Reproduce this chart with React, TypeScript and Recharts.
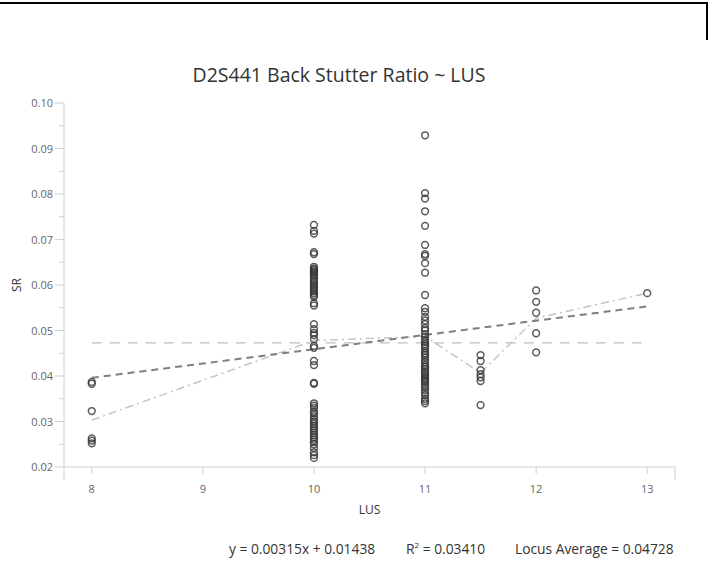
import React from "react";
import { ScatterChart, Scatter, XAxis, YAxis } from "recharts";

// SR values per LUS
const lus8 = [0.0387, 0.0383, 0.0323, 0.0263, 0.0258, 0.0252];
const lus10 = [
  0.0732, 0.0719, 0.0713, 0.0672, 0.0668,
  0.064, 0.0636, 0.0633, 0.063, 0.0628, 0.0624, 0.062, 0.0615, 0.061, 0.0606,
  0.0602, 0.0598, 0.0594, 0.059, 0.0586, 0.0582, 0.0578, 0.0574, 0.056, 0.0555,
  0.0514, 0.0503, 0.0495, 0.049, 0.0481, 0.0466, 0.0462, 0.0433, 0.0424, 0.0385, 0.0383,
  0.034, 0.0335, 0.033, 0.0322, 0.0318, 0.0312, 0.0305, 0.03, 0.0295, 0.029, 0.0285,
  0.028, 0.0275, 0.027, 0.0265, 0.026, 0.0255, 0.025, 0.0242, 0.0232, 0.0226, 0.022,
];
const lus11 = [
  0.0929, 0.0802, 0.079, 0.0762, 0.073, 0.0688, 0.0668, 0.0664, 0.0648, 0.0627,
  0.0578, 0.0549, 0.0541, 0.053, 0.0522, 0.0514, 0.0505, 0.05, 0.0492, 0.0486,
  0.048, 0.0475, 0.047, 0.0466, 0.0461, 0.0455, 0.045, 0.0446, 0.0441, 0.0435,
  0.043, 0.0424, 0.042, 0.0415, 0.041, 0.0406, 0.0402, 0.0398, 0.0394, 0.039,
  0.0386, 0.038, 0.0375, 0.0369, 0.0363, 0.0358, 0.035, 0.0345, 0.034,
];
const lus115 = [0.0446, 0.0433, 0.0413, 0.0404, 0.0397, 0.0389, 0.0336];
const lus12 = [0.0588, 0.0563, 0.0539, 0.0494, 0.0452];
const lus13 = [0.0582];

// mean SR per LUS (dash-dot line)
const meanLus = [8, 10, 11, 11.5, 12, 13];
const meanSR = [0.0303, 0.0478, 0.0487, 0.0407, 0.0527, 0.0582];

// fitted line end points and locus average
const fitLus = [8, 13];
const fitSR = [0.0396, 0.0553];
const locusAverage = 0.04728;

const xTicks = [7.75, 8, 9, 10, 11, 12, 13, 13.25];
const yTicks = [
  0.02, 0.025, 0.03, 0.035, 0.04, 0.045, 0.05, 0.055, 0.06, 0.065, 0.07, 0.075,
  0.08, 0.085, 0.09, 0.095, 0.1,
];

const toPoints = (x: number, ys: number[]) => ys.map((y) => ({ x, y }));

const points = [
  ...toPoints(8, lus8),
  ...toPoints(10, lus10),
  ...toPoints(11, lus11),
  ...toPoints(11.5, lus115),
  ...toPoints(12, lus12),
  ...toPoints(13, lus13),
];
const meanLine = meanLus.map((x, i) => ({ x, y: meanSR[i] }));
const fitLine = fitLus.map((x, i) => ({ x, y: fitSR[i] }));
const avgLine = fitLus.map((x) => ({ x, y: locusAverage }));

const FONT = "'Open Sans', 'Segoe UI', sans-serif";
const AXIS_COLOR = "#cfcfcf";
const TICK_SIZE = 9;
const TICK_MARGIN = 2;

const YTick = (props: any) => {
  const { x, y, payload } = props;
  const v = payload.value;
  const major = Math.abs(v * 100 - Math.round(v * 100)) < 1e-6;
  const axisX = x + TICK_SIZE + TICK_MARGIN;
  return (
    <g>
      <line x1={axisX} x2={axisX - (major ? 9 : 5)} y1={y} y2={y} stroke={AXIS_COLOR} />
      {major && (
        <text x={axisX - 11} y={y} dy={4} textAnchor="end" fill="#666" fontSize={11} fontFamily={FONT}>
          {v.toFixed(2)}
        </text>
      )}
    </g>
  );
};

const XTick = (props: any) => {
  const { x, y, payload } = props;
  const v = payload.value;
  const end = v !== Math.round(v);
  const axisY = y - TICK_SIZE - TICK_MARGIN;
  return (
    <g>
      <line x1={x} x2={x} y1={axisY} y2={axisY + (end ? 13 : 7)} stroke={AXIS_COLOR} />
      {!end && (
        <text x={x} y={axisY + 26} textAnchor="middle" fill="#666" fontSize={11} fontFamily={FONT}>
          {v}
        </text>
      )}
    </g>
  );
};

const NoShape = () => <g />;

const Circle = (props: any) => {
  const { cx, cy } = props;
  return <circle cx={cx} cy={cy} r={3.4} fill="none" stroke="#333" strokeOpacity={0.8} strokeWidth={1.5} />;
};

const statStyle: React.CSSProperties = {
  position: "absolute",
  top: 540,
  fontSize: 13.8,
  lineHeight: "18px",
  color: "#333",
  fontFamily: FONT,
  whiteSpace: "nowrap",
};

export default function App() {
  return (
    <div style={{ position: "absolute", left: 0, top: 0, width: 708, height: 584, background: "#fff", fontFamily: FONT }}>
      <div style={{ position: "absolute", left: 0, top: 2, width: 708, height: 2, background: "#000" }} />
      <div style={{ position: "absolute", left: 706, top: 2, width: 2, height: 38, background: "#000" }} />
      <div
        style={{
          position: "absolute",
          left: 0,
          width: 678,
          top: 62,
          textAlign: "center",
          fontSize: 19.5,
          lineHeight: "26px",
          color: "#333",
        }}
      >
        D2S441 Back Stutter Ratio ~ LUS
      </div>
      <ScatterChart width={708} height={584} margin={{ top: 103, right: 33, left: 24, bottom: 87 }}>
        <XAxis
          type="number"
          dataKey="x"
          domain={[7.75, 13.25]}
          ticks={xTicks}
          interval={0}
          height={30}
          stroke={AXIS_COLOR}
          tickLine={false}
          tickSize={TICK_SIZE}
          tickMargin={TICK_MARGIN}
          tick={<XTick />}
          label={{ value: "LUS", position: "bottom", offset: 8, fill: "#333", fontSize: 12, fontFamily: FONT }}
        />
        <YAxis
          type="number"
          dataKey="y"
          domain={[0.02, 0.1]}
          ticks={yTicks}
          interval={0}
          width={40}
          stroke={AXIS_COLOR}
          tickLine={false}
          tickSize={TICK_SIZE}
          tickMargin={TICK_MARGIN}
          tick={<YTick />}
          label={{ value: "SR", angle: -90, position: "center", dx: -27, fill: "#333", fontSize: 12, fontFamily: FONT }}
        />
        <Scatter
          data={avgLine}
          line={{ stroke: "#bdbdbd", strokeWidth: 1.3, strokeDasharray: "10 8" }}
          shape={<NoShape />}
          isAnimationActive={false}
        />
        <Scatter
          data={meanLine}
          line={{ stroke: "#c4c4c4", strokeWidth: 1.5, strokeDasharray: "8 4 2 4" }}
          shape={<NoShape />}
          isAnimationActive={false}
        />
        <Scatter
          data={fitLine}
          line={{ stroke: "#7f7f7f", strokeWidth: 2, strokeDasharray: "7 5" }}
          shape={<NoShape />}
          isAnimationActive={false}
        />
        <Scatter data={points} shape={<Circle />} isAnimationActive={false} />
      </ScatterChart>
      <div style={{ ...statStyle, left: 229 }}>y = 0.00315x + 0.01438</div>
      <div style={{ ...statStyle, left: 406 }}>
        R<sup style={{ fontSize: 8, verticalAlign: "6px", lineHeight: 0 }}>2</sup> = 0.03410
      </div>
      <div style={{ ...statStyle, left: 515 }}>Locus Average = 0.04728</div>
    </div>
  );
}
